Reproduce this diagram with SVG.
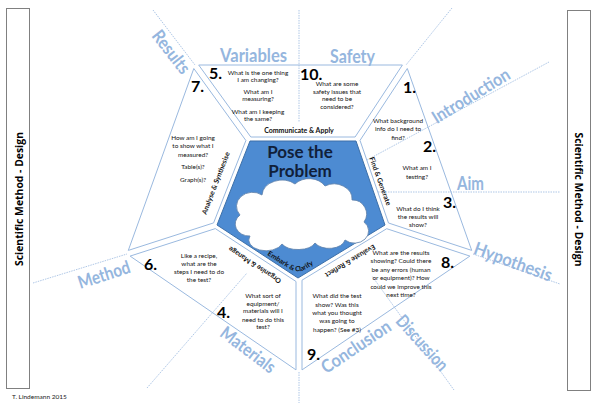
<svg xmlns="http://www.w3.org/2000/svg" width="597" height="403" viewBox="0 0 597 403">
<style>
.trap{fill:none;stroke:#9ab9df;stroke-width:1}
.dot{fill:none;stroke:#9ab9df;stroke-width:0.8;stroke-dasharray:1.5 1}
.lab{font-family:Lato,"Liberation Sans",sans-serif;font-size:18px;font-weight:bold;fill:#95b6de;text-anchor:middle}
.num{font-family:Lato,"Liberation Sans",sans-serif;font-size:16px;font-weight:bold;fill:#000}
.sm{font-family:Lato,"Liberation Sans",sans-serif;font-size:6.4px;fill:#111;text-anchor:middle}
.proc{font-family:Lato,"Liberation Sans",sans-serif;font-size:7px;font-weight:bold;fill:#111;text-anchor:middle}
.side{font-family:"Open Sans","Liberation Sans",sans-serif;font-size:11px;font-weight:bold;fill:#000;text-anchor:middle}
</style>
<defs><path id="embark" d="M256,248 L289,268.5 Q298,274 307,268.5 L340,248"/></defs>
<rect width="597" height="403" fill="#fff"/>
<g id="side-left"><rect x="6.5" y="8.5" width="23" height="380" fill="#fff" stroke="#808080"/>
<text class="side" transform="translate(22.5,199) rotate(-90)" textLength="134" lengthAdjust="spacingAndGlyphs">Scientific Method - Design</text></g>
<g id="side-right"><rect x="567.5" y="10.5" width="23" height="380" fill="#fff" stroke="#808080"/>
<text class="side" transform="translate(575,199.5) rotate(90)" textLength="134" lengthAdjust="spacingAndGlyphs">Scientific Method - Design</text></g>
<g id="connectors">
<line class="dot" x1="299" y1="10" x2="299" y2="122"/>
<line class="dot" x1="153" y1="10" x2="195" y2="65"/>
<line class="dot" x1="452" y1="8" x2="406" y2="65"/>
<line class="dot" x1="549" y1="62" x2="367" y2="160"/>
<line class="dot" x1="378" y1="192" x2="560" y2="192"/>
<line class="dot" x1="473" y1="254" x2="560" y2="284"/>
<line class="dot" x1="454" y1="390" x2="372" y2="276"/>
<line class="dot" x1="299" y1="372" x2="299" y2="403"/>
<line class="dot" x1="147" y1="388" x2="247" y2="273"/>
<line class="dot" x1="33" y1="283" x2="127" y2="254"/>
</g>
<g id="sec-top"><polygon class="trap" points="198.7,65 402.4,65 355.1,137 250.8,137"/></g>
<g id="sec-right"><polygon class="trap" points="407.3,68.5 471.7,250.4 388.5,223 360,140.4"/></g>
<g id="sec-bottom-right"><polygon class="trap" points="469.9,256.1 302,369.9 302,280.2 386.7,228.7"/></g>
<g id="sec-bottom-left"><polygon class="trap" points="296,369.9 130.1,256.1 215.3,228.6 296,281.5"/></g>
<g id="sec-left"><polygon class="trap" points="128.3,250.4 193.8,68.5 245.9,140.5 213.6,222.9"/></g>
<g id="center">
<polygon points="250,141 356,141 385,225 298,278 217,225" fill="#4d8bd2" stroke="#3c6fa8" stroke-width="1"/>
<path d="M250,236 A14,12 0 0 1 240,215 A16,14 0 0 1 262,195 A20,16 0 0 1 295,184 A18,14 0 0 1 325,186 A18,15 0 0 1 352,200 A14,14 0 0 1 364,222 A14,12 0 0 1 345,240 A16,10 0 0 1 315,243 A18,10 0 0 1 282,244 A16,10 0 0 1 250,236 Z" fill="#fff" stroke="#5a7ea8" stroke-width="0.8"/>
<text x="300" y="158" font-family="Lato,'Liberation Sans',sans-serif" font-size="17" font-weight="bold" fill="#10203a" text-anchor="middle">Pose the</text>
<text x="300" y="177" font-family="Lato,'Liberation Sans',sans-serif" font-size="17" font-weight="bold" fill="#10203a" text-anchor="middle">Problem</text>
<text class="proc" style="text-anchor:start"><textPath href="#embark" startOffset="13">Embark &amp; Clarify</textPath></text>
</g>
<g id="proc-labels">
<text class="proc" x="299" y="133">Communicate &amp; Apply</text>
<text class="proc" transform="translate(378,182) rotate(70)">Find &amp; Generate</text>
<text class="proc" transform="translate(218,184) rotate(-69)">Analyse &amp; Synthesise</text>
<text class="proc" transform="translate(256,263) rotate(213)">Organise &amp; Manage</text>
<text class="proc" transform="translate(349,259) rotate(149)">Evaluate &amp; Reflect</text>
</g>
<g id="labels">
<text class="lab" x="253.5" y="62" textLength="67" lengthAdjust="spacingAndGlyphs">Variables</text>
<text class="lab" x="352.5" y="63" textLength="45" lengthAdjust="spacingAndGlyphs">Safety</text>
<text class="lab" transform="translate(171,52) rotate(52)" y="6" textLength="50" lengthAdjust="spacingAndGlyphs">Results</text>
<text class="lab" transform="translate(471,96) rotate(-31.6)" y="6" textLength="88" lengthAdjust="spacingAndGlyphs">Introduction</text>
<text class="lab" x="470.5" y="190" textLength="27" lengthAdjust="spacingAndGlyphs">Aim</text>
<text class="lab" transform="translate(513,262) rotate(20)" y="6" textLength="82" lengthAdjust="spacingAndGlyphs">Hypothesis</text>
<text class="lab" transform="translate(422,343) rotate(48)" y="6" textLength="68" lengthAdjust="spacingAndGlyphs">Discussion</text>
<text class="lab" transform="translate(356,347) rotate(-34)" y="6" textLength="80" lengthAdjust="spacingAndGlyphs">Conclusion</text>
<text class="lab" transform="translate(248,350) rotate(37)" y="6" textLength="64" lengthAdjust="spacingAndGlyphs">Materials</text>
<text class="lab" transform="translate(104,275) rotate(-18)" y="6" textLength="54" lengthAdjust="spacingAndGlyphs">Method</text>
</g>
<g id="node-5"><text class="num" x="209" y="79">5.</text>
<text class="sm"><tspan x="258" y="75">What is the one thing</tspan><tspan x="258" y="82">I am changing?</tspan><tspan x="258" y="94">What am I</tspan><tspan x="258" y="101">measuring?</tspan><tspan x="258" y="114">What am I keeping</tspan><tspan x="258" y="121">the same?</tspan></text></g>
<g id="node-10"><text class="num" x="300" y="80">10.</text>
<text class="sm"><tspan x="337" y="86">What are some</tspan><tspan x="337" y="94">safety issues that</tspan><tspan x="337" y="101">need to be</tspan><tspan x="337" y="109">considered?</tspan></text></g>
<g id="node-7"><text class="num" x="191" y="92">7.</text>
<text class="sm"><tspan x="193" y="140">How am I going</tspan><tspan x="193" y="148">to show what I</tspan><tspan x="193" y="157">measured?</tspan><tspan x="193" y="169">Table(s)?</tspan><tspan x="193" y="182">Graph(s)?</tspan></text></g>
<g id="node-1"><text class="num" x="403" y="93">1.</text>
<text class="sm"><tspan x="398" y="123">What background</tspan><tspan x="398" y="131">info do I need to</tspan><tspan x="398" y="140">find?</tspan></text></g>
<g id="node-2"><text class="num" x="423" y="152">2.</text>
<text class="sm"><tspan x="417" y="170">What am I</tspan><tspan x="417" y="179">testing?</tspan></text></g>
<g id="node-3"><text class="num" x="443" y="208">3.</text>
<text class="sm"><tspan x="418" y="211">What do I think</tspan><tspan x="418" y="219">the results will</tspan><tspan x="418" y="227">show?</tspan></text></g>
<g id="node-8"><text class="num" x="441" y="268">8.</text>
<text class="sm"><tspan x="401" y="255">What are the results</tspan><tspan x="401" y="263">showing? Could there</tspan><tspan x="401" y="272">be any errors (human</tspan><tspan x="401" y="280">or equipment)? How</tspan><tspan x="401" y="289">could we improve this</tspan><tspan x="401" y="297">next time?</tspan></text></g>
<g id="node-9"><text class="num" x="307" y="360">9.</text>
<text class="sm"><tspan x="337" y="298">What did the test</tspan><tspan x="337" y="307">show? Was this</tspan><tspan x="337" y="315">what you thought</tspan><tspan x="337" y="323">was going to</tspan><tspan x="337" y="332">happen? (See #3)</tspan></text></g>
<g id="node-4"><text class="num" x="217" y="318">4.</text>
<text class="sm"><tspan x="263" y="298">What sort of</tspan><tspan x="263" y="306">equipment/</tspan><tspan x="263" y="313">materials will I</tspan><tspan x="263" y="322">need to do this</tspan><tspan x="263" y="329">test?</tspan></text></g>
<g id="node-6"><text class="num" x="144" y="270">6.</text>
<text class="sm"><tspan x="199" y="258">Like a recipe,</tspan><tspan x="199" y="266">what are the</tspan><tspan x="199" y="274">steps I need to do</tspan><tspan x="199" y="282">the test?</tspan></text></g>
<text x="12" y="399" font-family="Lato,'Liberation Sans',sans-serif" font-size="6.5" fill="#222">T. Lindemann 2015</text>
</svg>
